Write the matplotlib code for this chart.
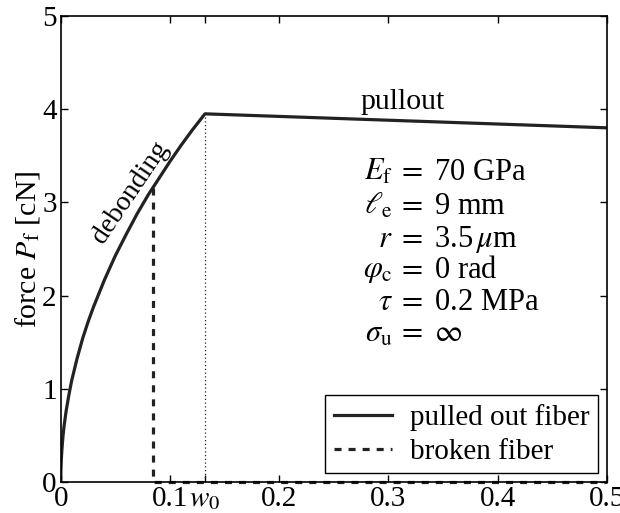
import numpy as np
import matplotlib
matplotlib.use("Agg")
import matplotlib.pyplot as plt

plt.rcParams["font.family"] = ["Liberation Serif", "DejaVu Serif"]
plt.rcParams["mathtext.fontset"] = "stix"

w_pulled = [0, 0.0001, 0.0002, 0.0005, 0.001, 0.002, 0.003, 0.005, 0.0075,
            0.01, 0.015, 0.02, 0.025, 0.03, 0.04, 0.05, 0.06, 0.07, 0.08,
            0.09, 0.10, 0.11, 0.12, 0.132, 0.5]
P_pulled = [0, 0.11, 0.15, 0.24, 0.34, 0.49, 0.60, 0.77, 0.94,
            1.09, 1.33, 1.54, 1.72, 1.88, 2.17, 2.43, 2.66, 2.88, 3.08,
            3.26, 3.44, 3.61, 3.77, 3.95, 3.80]

# broken fiber: drop at break, then zero force
w_broken = [0.084, 0.084, 0.5]
P_broken = [3.15, 0, 0]

w0 = 0.132
xtick_vals = [0, 0.1, w0, 0.2, 0.3, 0.4, 0.5]
xtick_labels = ["0", "0.1", "$w_0$", "0.2", "0.3", "0.4", "0.5"]

params_lhs = [r"$E_\mathrm{f}$", r"$\ell_\mathrm{e}$", r"$r$",
              r"$\varphi_\mathrm{c}$", r"$\tau$", r"$\sigma_\mathrm{u}$"]
params_rhs = [r"$=$ 70 GPa", r"$=$ 9 mm", r"$=$ 3.5$\,\mu$m",
              r"$=$ 0 rad", r"$=$ 0.2 MPa", r"$=$ $\infty$"]

fig = plt.figure(figsize=(6.2, 5.13), dpi=100)
ax = fig.add_axes([0.098, 0.060, 0.881, 0.909])

col = "#222222"
ax.plot(w_pulled, P_pulled, color=col, lw=2.3, label="pulled out fiber")
ax.plot(w_broken, P_broken, color=col, lw=2.3, ls=(0, (2.2, 2.2)),
        label="broken fiber", clip_on=False)
ax.plot([w0, w0], [0, 3.95], color=col, lw=0.9, ls=(0, (1, 2)))

ax.set_xlim(0, 0.5)
ax.set_ylim(0, 5)
ax.set_xticks(xtick_vals)
ax.set_xticklabels(xtick_labels)
ax.set_yticks(range(6))
ax.tick_params(direction="in", top=True, right=True, labelsize=21,
               length=5, width=1, pad=3)
for s in ax.spines.values():
    s.set_linewidth(1.2)
ax.set_ylabel(r"force $P_\mathrm{f}$ [cN]", fontsize=21.5, labelpad=0)

ax.text(0.0635, 3.11, "debonding", rotation=56, fontsize=20,
        ha="center", va="center")
ax.text(0.313, 4.08, "pullout", fontsize=21.5, ha="center", va="center")

ys = [3.32, 2.96, 2.6, 2.27, 1.93, 1.59]
for lhs, rhs, y in zip(params_lhs, params_rhs, ys):
    ax.text(0.304, y, lhs, fontsize=22, ha="right", va="center")
    ax.text(0.308, y, rhs, fontsize=22, ha="left", va="center")

leg = ax.legend(loc="lower right", fontsize=21, fancybox=False,
                edgecolor="black", framealpha=1, borderaxespad=0.3,
                handlelength=2.0, handletextpad=0.6, borderpad=0.3,
                labelspacing=0.25)
leg.get_frame().set_linewidth(1.0)

fig.savefig("out.png", dpi=100)
